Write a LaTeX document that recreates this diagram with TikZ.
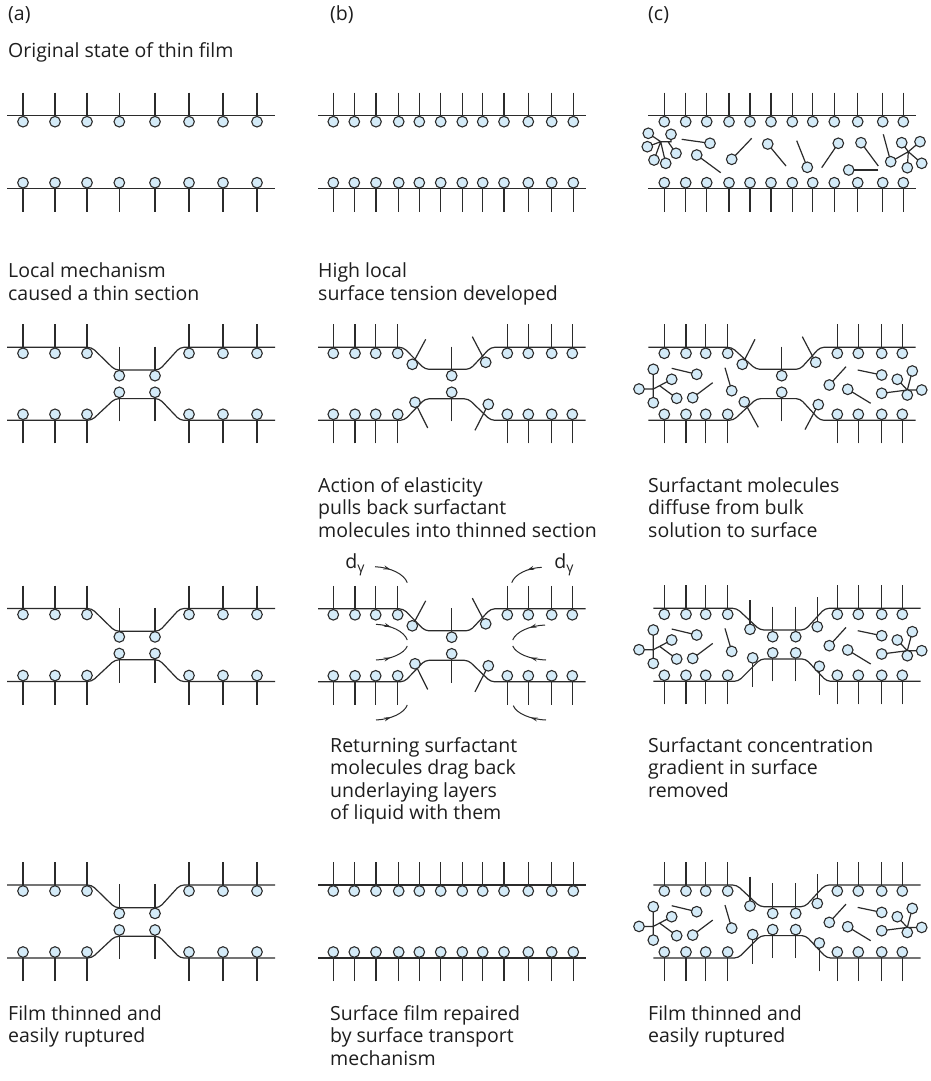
\documentclass[tikz,border=0pt]{standalone}
\usepackage{fontspec}
\setmainfont{Open Sans}
\usetikzlibrary{arrows.meta,decorations.markings}
\definecolor{linec}{HTML}{2B2B2B}
\definecolor{headc}{HTML}{D4EBF8}
\definecolor{textc}{HTML}{1E1E1E}

% a surfactant molecule: head at (#1,#2), tail end at (#3,#4)
\newcommand\mol[4]{\draw[tl] (#3,#4) -- (#1,#2); \draw[hd] (#1,#2) circle[radius=5.3pt];}
% rows of molecules on an upper / lower surface at height #1
\newcommand\topmols[2]{\foreach \xx in {#2}{\draw[tl] (\xx,#1-23) -- (\xx,#1+6); \draw[hd] (\xx,#1+6) circle[radius=5.3pt];}}
\newcommand\botmols[2]{\foreach \xx in {#2}{\draw[tl] (\xx,#1+23) -- (\xx,#1-6); \draw[hd] (\xx,#1-6) circle[radius=5.3pt];}}

% thinned film, column (a)
\newcommand\filmAthin[1]{%
  \pgfmathsetmacro\yb{#1+73}%
  \draw[surf] (7,#1) -- (91.7,#1) -- (115,#1+22.7) -- (159.3,#1+22.7) -- (180,#1) -- (275,#1);
  \draw[surf] (7,\yb) -- (91.7,\yb) -- (115,\yb-21.7) -- (159.3,\yb-21.7) -- (180,\yb) -- (275,\yb);
  \topmols{#1}{23,55,87,189,223,257}
  \botmols{\yb}{23,55,87,189,223,257}
  \foreach \xx in {119.3,155}{\mol{\xx}{#1+28.4}{\xx}{#1-0.6}\mol{\xx}{\yb-28}{\xx}{\yb+1}}
}
% thinned film with tilted molecules, column (b)
\newcommand\filmBthin[1]{%
  \pgfmathsetmacro\yb{#1+73}%
  \draw[surf] (318,#1) -- (403.3,#1) -- (425,#1+22) -- (470,#1+22) -- (490.7,#1) -- (585.7,#1);
  \draw[surf] (318,\yb) -- (404.3,\yb) -- (425,\yb-21.5) -- (468.3,\yb-21.5) -- (490.7,\yb) -- (585.7,\yb);
  \topmols{#1}{333.3,355,375.7,397.7,507.3,528.3,551.7,572.3}
  \botmols{\yb}{333.3,355,375.7,397.7,507.3,528.3,551.7,572.3}
  \mol{451.7}{#1+28.4}{451.7}{#1-0.6}
  \mol{451.7}{\yb-28}{451.7}{\yb+1}
  \mol{412.3}{#1+17}{425.7}{#1-8}
  \mol{485.7}{#1+15}{472.3}{#1-10.6}
  \mol{415}{\yb-18}{427.7}{\yb+7.7}
  \mol{488.3}{\yb-16}{475}{\yb+10}
}
% thinned film, column (c)
\newcommand\filmCthin[1]{%
  \pgfmathsetmacro\yb{#1+73}%
  \draw[surf] (648.3,#1) -- (731.7,#1) -- (756,#1+22) -- (800,#1+22) -- (820,#1) -- (915.7,#1);
  \draw[surf] (648.3,\yb) -- (733.3,\yb) -- (756.7,\yb-21.7) -- (800,\yb-21.7) -- (820,\yb) -- (915.7,\yb);
  \topmols{#1}{664.3,686,705.7,727.7,837.3,858.3,881.7,902.3}
  \botmols{\yb}{664.3,686,705.7,727.7,837.3,858.3,881.7,902.3}
  \mol{781.7}{#1+28.4}{781.7}{#1-0.6}
  \mol{781.7}{\yb-28}{781.7}{\yb+1}
  \mol{742.3}{#1+17}{755}{#1-8}
  \mol{815.7}{#1+15}{802.3}{#1-10.6}
  \mol{744.3}{\yb-18.4}{758.3}{\yb+7}
  \mol{818.3}{\yb-15.7}{805}{\yb+9.3}
}
% thinned film restocked with surfactant, column (c)
\newcommand\filmCfull[1]{%
  \pgfmathsetmacro\yb{#1+73}%
  \draw[surf] (653.3,#1) -- (736.7,#1) -- (760,#1+21.7) -- (805,#1+21.7) -- (825,#1) -- (920.7,#1);
  \draw[surf] (653.3,\yb) -- (738.3,\yb) -- (760.7,\yb-22.4) -- (805.7,\yb-22.4) -- (826.7,\yb) -- (920.7,\yb);
  \topmols{#1}{664.3,686,705.7,727.7,837.3,858.3,881.7,902.3}
  \botmols{\yb}{664.3,686,705.7,727.7,837.3,858.3,881.7,902.3}
  \mol{750}{#1+21}{750}{#1-8.3}
  \mol{772.7}{#1+28.4}{772.7}{#1-1.6}
  \mol{795.7}{#1+28.4}{795.7}{#1-1.6}
  \mol{817.3}{#1+18.4}{817.3}{#1-11}
  \mol{752.7}{\yb-23.4}{752.7}{\yb+5.6}
  \mol{772.7}{\yb-28.4}{772.7}{\yb}
  \mol{795.7}{\yb-28.4}{795.7}{\yb}
  \mol{819.3}{\yb-15}{819.3}{\yb+13.3}
}
% dissolved surfactant in the bulk of the film, column (c)
\newcommand\bulkC[1]{%
  \begin{scope}[shift={(0,#1)}]
    \draw[tl] (653.3,369.3) -- (653.3,402.7) (639,389) -- (653.3,389) -- (671.7,379.3) (660,386) -- (676.7,398.3);
    \foreach \p in {(653.3,369.3),(639,389),(653.3,402.7),(671.7,379.3),(676.7,398.3)}{\draw[hd] \p circle[radius=5.3pt];}
    \mol{696.7}{374.3}{671.7}{368.3}
    \mol{692.7}{397.7}{712.7}{382.7}
    \mol{731.7}{390.7}{725}{367.7}
    \mol{829.3}{385}{846}{366.7}
    \mol{847.7}{389.3}{870.7}{403.3}
    \mol{881.7}{375}{857.7}{370}
    \draw[tl] (907.3,390) -- (897.3,379.3) (907.3,390) -- (912.3,371) (907.3,390) -- (921.7,390) (907.3,390) -- (881.7,393.3) (907.3,390) -- (907.3,395);
    \foreach \p in {(897.3,379.3),(912.3,371),(907.3,395),(921.7,390),(881.7,393.3)}{\draw[hd] \p circle[radius=5.3pt];}
  \end{scope}
}
% curved flow arrow with its tip part way along
\newcommand\flowarc[4]{\draw[flow] (#1,#2) .. controls ({#1+0.48*(#3-#1)},{#2+0.05*(#4-#2)}) and ({#3-0.1*(#3-#1)},{#2+0.45*(#4-#2)}) .. (#3,#4);}

\begin{document}
\begin{tikzpicture}[x=1pt,y=-1pt,
  surf/.style={draw=linec,line width=1.2pt,rounded corners=4pt},
  tl/.style={draw=linec,line width=1.2pt},
  hd/.style={draw=linec,fill=headc,line width=1.1pt},
  lbl/.style={anchor=base west,align=left,inner sep=0pt,font=\fontsize{19.5}{22.5}\selectfont,text=textc},
  flow/.style={draw=linec,line width=1pt,postaction={decorate},
    decoration={markings,mark=at position 0.42 with {\arrow{Stealth[length=7pt,width=4pt]}}}}]
\fill[white] (0,0) rectangle (930,1081);
\useasboundingbox (0,0) rectangle (930,1081);

% column headings
\node[lbl] (ha) at (8,21) {(a)};
\node[lbl] (hb) at (330,21) {(b)};
\node[lbl] (hc) at (648,21) {(c)};

% captions (anchored at the baseline of their last line)
\node[lbl] (ta1) at (8,57) {Original state of thin film};
\node[lbl] (ta2) at (8,300) {Local mechanism\\caused a thin section};
\node[lbl] (tb2) at (318,300) {High local\\surface tension developed};
\node[lbl] (tb3) at (318,537) {Action of elasticity\\pulls back surfactant\\molecules into thinned section};
\node[lbl] (tc3) at (648,537) {Surfactant molecules\\diffuse from bulk\\solution to surface};
\node[lbl] (tb4) at (330,819.5) {Returning surfactant\\molecules drag back\\underlaying layers\\of liquid with them};
\node[lbl] (tc4) at (648,797) {Surfactant concentration\\gradient in surface\\removed};
\node[lbl] (ta5) at (8,1042.5) {Film thinned and\\easily ruptured};
\node[lbl] (tb5) at (330,1065) {Surface film repaired\\by surface transport\\mechanism};
\node[lbl] (tc5) at (648,1042.5) {Film thinned and\\easily ruptured};

% ---- row 1: original flat films
\draw[surf] (7,115.7) -- (275,115.7) (7,188.7) -- (275,188.7);
\topmols{115.7}{23,55,87,119.3,155,189,223,257}
\botmols{188.7}{23,55,87,119.3,155,189,223,257}
\draw[surf] (318,115.7) -- (585.7,115.7) (318,188.7) -- (585.7,188.7);
\topmols{115.7}{333.3,354.3,376,398.7,419.3,440.7,462.3,482.7,504,528.3,551.7,573.3}
\botmols{188.7}{333.3,354.3,376,398.7,419.3,440.7,462.3,482.7,504,528.3,551.7,573.3}
\draw[surf] (648.3,115.7) -- (915.7,115.7) (648.3,188.7) -- (915.7,188.7);
\topmols{115.7}{664.3,685.7,706.7,729,750,771,792.3,812.7,834.3,857.7,882.7,903.3}
\botmols{188.7}{664.3,685.7,706.7,729,750,771,792.3,812.7,834.3,857.7,882.7,903.3}
% dissolved surfactant, row 1
\draw[tl] (660.7,141.7) -- (648.3,133.3) (660.7,141.7) -- (647.3,146.7) (660.7,141.7) -- (654,160)
  (660.7,141.7) -- (665.7,163.3) (660.7,141.7) -- (671,141.7) -- (671,134.3) (668,141.7) -- (676,153.3);
\foreach \p in {(648.3,133.3),(671,134.3),(647.3,146.7),(676,153.3),(654,160),(665.7,163.3)}{\draw[hd] \p circle[radius=5.3pt];}
\mol{710}{143.3}{681.7}{139.3}
\mol{696.7}{155}{720.7}{172.7}
\mol{731.7}{159.3}{751.7}{138.3}
\mol{767.7}{144}{786}{166}
\mol{807.3}{167.3}{796.7}{140.7}
\mol{838.3}{143.3}{821.7}{167.7}
\mol{861}{142.7}{878.3}{166}
\mol{848.7}{170}{878.3}{170}
\draw[tl] (883.3,134.3) -- (890.7,161.7) -- (908.3,151.7) (908.3,151.7) -- (901.7,142.7) (908.3,151.7) -- (920,141.7)
  (908.3,151.7) -- (907.3,167.7) (908.3,151.7) -- (921.7,163.3);
\foreach \p in {(890.7,161.7),(901.7,142.7),(920,141.7),(907.3,167.7),(921.7,163.3)}{\draw[hd] \p circle[radius=5.3pt];}

% ---- row 2
\filmAthin{347.3}
\filmBthin{347.3}
\filmCthin{347.3}
\bulkC{0}

% ---- row 3
\filmAthin{608.5}
\filmBthin{608.8}
\filmCfull{608.3}
\bulkC{260.7}
\node[lbl,anchor=center] (dl) at (355,565) {d\raisebox{-0.35ex}{\fontsize{14}{14}\selectfont γ}};
\node[lbl,anchor=center] (dr) at (564,565) {d\raisebox{-0.35ex}{\fontsize{14}{14}\selectfont γ}};
\flowarc{375}{566.7}{407.3}{582.7}
\flowarc{376}{624.3}{407.3}{640}
\flowarc{376}{660}{407.3}{646}
\flowarc{376}{720}{407.3}{705}
\flowarc{541.7}{567.3}{511.7}{582.7}
\flowarc{545}{625}{512.7}{640}
\flowarc{546}{660}{512.7}{646}
\flowarc{546}{720}{513.3}{705.7}

% ---- row 4
\filmAthin{885}
\draw[surf] (318,885) -- (585.7,885) (318,958) -- (585.7,958);
\topmols{885}{333.3,354.3,376,398.7,419.3,440.7,462.3,482.7,504,528.3,551.7,573.3}
\botmols{958}{333.3,354.3,376,398.7,419.3,440.7,462.3,482.7,504,528.3,551.7,573.3}
\filmCfull{885}
\bulkC{537.4}
\end{tikzpicture}
\end{document}
